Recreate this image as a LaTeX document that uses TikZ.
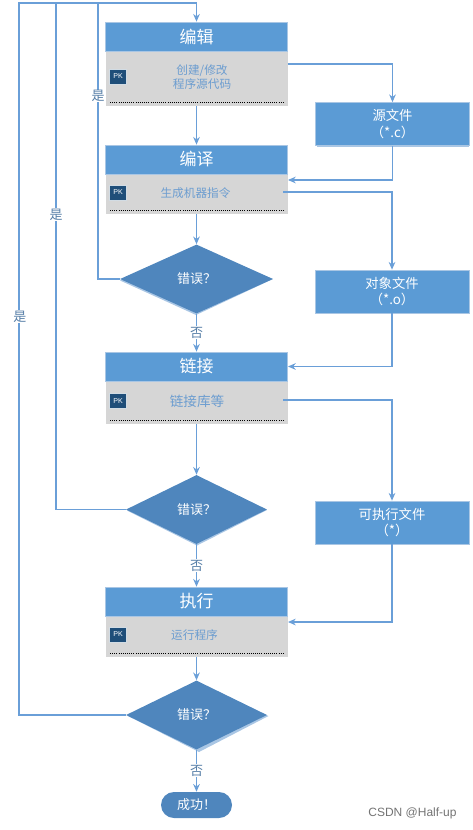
\documentclass[tikz,border=0pt]{standalone}
\usepackage{fontspec}
\setmainfont{Noto Sans CJK SC}
\newfontfamily\wm{Liberation Sans}
\usetikzlibrary{shapes.geometric,shapes.misc,arrows.meta,calc}
\definecolor{hdr}{HTML}{5B9BD5}
\definecolor{bodyg}{HTML}{D6D6D6}
\definecolor{dk}{HTML}{4F86BD}
\definecolor{pk}{HTML}{1F4E79}
\definecolor{txtb}{HTML}{6C9DD0}
\definecolor{lnc}{HTML}{6A9FD8}
\definecolor{edgec}{HTML}{A9C6E4}
\tikzset{
 px/.style={x=0.75pt,y=-0.75pt},
 hbox/.style={draw=edgec,line width=0.5pt,fill=hdr,text=white,minimum width=136.5pt,minimum height=21.75pt,inner sep=0pt,font=\fontsize{12.75}{14}\selectfont},
 bbox/.style={fill=bodyg,text=txtb,inner sep=0pt,minimum width=136.5pt,font=\fontsize{8.75}{10.75}\selectfont,align=center},
 fbox/.style={draw=edgec,line width=0.5pt,fill=hdr,text=white,minimum width=115.5pt,minimum height=32.25pt,inner sep=0pt,align=center,font=\fontsize{10}{12.5}\selectfont},
 pkbox/.style={fill=pk,draw=white!80!pk,line width=0.3pt,text=white,minimum width=12.5pt,minimum height=11.5pt,inner sep=0pt,font=\wm\fontsize{5.3}{6}\selectfont},
 dec/.style={diamond,aspect=2.1,fill=dk,text=white,inner sep=0pt,font=\fontsize{9.75}{11}\selectfont},
 lbl/.style={text=txtb!80!black,inner sep=0.5pt,fill=white,font=\fontsize{9.75}{11}\selectfont},
 conn/.style={draw=lnc,line width=0.8pt},
 arr/.style={conn,-{Stealth[length=5.8pt,width=5pt]}},
 dotl/.style={line width=0.6pt,densely dotted,black},
}
\begin{document}
\begin{tikzpicture}[px]
\useasboundingbox (0,0) rectangle (472,830);
% program boxes
\node[bbox,minimum height=41.25pt] (b1) at (196.5,78.5) {};
\node[hbox] (h1) at (196.5,36.5) {\raisebox{-0.7pt}{编辑}};
\node[bbox,minimum height=30pt] (b2) at (196.5,194) {};
\node[hbox] (h2) at (196.5,159.5) {\raisebox{-0.7pt}{编译}};
\node[bbox,minimum height=32.25pt] (b3) at (196.5,402.5) {};
\node[hbox] (h3) at (196.5,366.5) {\raisebox{-0.7pt}{链接}};
\node[bbox,minimum height=30.75pt] (b4) at (196.5,636.5) {};
\node[hbox] (h4) at (196.5,601.5) {\raisebox{-0.7pt}{执行}};
% body content
\node[bbox,fill=none,minimum width=0pt] (t1) at (202,77) {创建/修改\\程序源代码};
\node[bbox,fill=none,minimum width=0pt] (t2) at (195.5,193) {生成机器指令};
\node[bbox,fill=none,minimum width=0pt,font=\fontsize{10.2}{12}\selectfont] (t3) at (197,401.5) {链接库等};
\node[bbox,fill=none,minimum width=0pt] (t4) at (194.5,635) {运行程序};
\node[pkbox] (p1) at (118,76.5) {PK};
\node[pkbox] (p2) at (118,192.5) {PK};
\node[pkbox] (p3) at (118,401) {PK};
\node[pkbox] (p4) at (118,634.5) {PK};
\draw[dotl] (110,102.5) -- (283,102.5);
\draw[dotl] (110,210.5) -- (283,210.5);
\draw[dotl] (110,420.5) -- (283,420.5);
\draw[dotl] (110,653.5) -- (283,653.5);
% file boxes
\fill[edgec] (317,104) rectangle (469,147.5);
\node[fbox] (f1) at (392.5,124) {源文件\\（*.c）};
\node[fbox] (f2) at (392,291.5) {对象文件\\（*.o）};
\node[fbox] (f3) at (392,522.5) {可执行文件\\（*）};
% decisions
\fill[edgec] (120,280.5) -- (196,315) -- (273,279) -- (196,246) -- cycle;
\node[dec,minimum width=114.75pt,minimum height=51.75pt] (d1) at (196.5,279) {错误？};
\fill[edgec] (127,510.5) -- (197,545.5) -- (267,510) -- (197,476) -- cycle;
\node[dec,minimum width=105.75pt,minimum height=51.75pt] (d2) at (196.5,509.5) {错误？};
\fill[edgec] (128,716) -- (199,752) -- (268.5,716) -- (198,682) -- cycle;
\node[dec,minimum width=105.75pt,minimum height=51.75pt] (d3) at (196.5,715) {错误？};
\node[rounded rectangle,fill=dk,text=white,minimum width=53.25pt,minimum height=19.5pt,inner sep=0pt,font=\fontsize{9.75}{11}\selectfont] (end) at (196.5,805) {成功！};
% free routing points
\coordinate (top) at (196.5,3);
\coordinate (o1) at (287.5,64);
\coordinate (i2) at (288,180);
\coordinate (o2) at (283,192);
\coordinate (i3) at (288,366.5);
\coordinate (o3) at (283,400);
\coordinate (i4) at (288,622);
\coordinate (l1) at (98,3);
\coordinate (l2) at (56,3);
\coordinate (l3) at (19,3);
% vertical flow
\draw[arr] (top) -- (h1.north);
\draw[arr] (b1.south) -- (h2.north);
\draw[arr] (b2.south) -- (d1.north);
\draw[arr] (d1.south) -- node[lbl,pos=.5]{否} (h3.north);
\draw[arr] (b3.south) -- (d2.north);
\draw[arr] (d2.south) -- node[lbl,pos=.5]{否} (h4.north);
\draw[arr] (b4.south) -- (d3.north);
\draw[arr] (d3.south) -- node[lbl,pos=.5]{否} (end.north);
% files
\draw[arr] (o1) -| (f1.north);
\draw[arr] (f1.south) |- (i2);
\draw[arr] (o2) -| (f2.north);
\draw[arr] (f2.south) |- (i3);
\draw[arr] (o3) -| (f3.north);
\draw[arr] (f3.south) |- (i4);
% loops
\draw[conn] (d1.west) -| (l1) -- (top);
\draw[conn] (d2.west) -| (l2) -- (top);
\draw[conn] (d3.west) -| (l3) -- (top);
\node[lbl] (y1) at (98,96) {是};
\node[lbl] (y2) at (56,214.5) {是};
\node[lbl] (y3) at (20,316.5) {是};
\node[text=black!55,inner sep=0pt,font=\wm\fontsize{9}{10}\selectfont] (wm) at (412.5,813.5) {CSDN @Half-up};
\end{tikzpicture}
\end{document}
